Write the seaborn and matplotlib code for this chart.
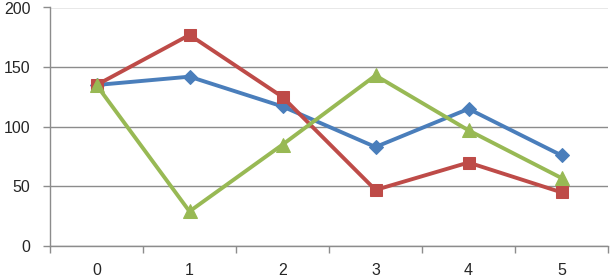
"""Excel-style line chart with three marker series."""

import matplotlib.pyplot as plt
import numpy as np
import pandas as pd
import seaborn as sns
from matplotlib.ticker import FixedLocator

categories = [0, 1, 2, 3, 4, 5]
series_blue = [135, 142, 117, 83, 115, 76]
series_red = [135, 177, 125, 47, 70, 45]
series_green = [135, 29, 85, 143, 97, 57]
y_ticks = [0, 50, 100, 150, 200]

sns.set_theme(style="white")
plt.rcParams["font.family"] = ["Liberation Sans", "DejaVu Sans"]

frame = pd.DataFrame({
    "x": categories * 3,
    "y": series_blue + series_red + series_green,
    "series": ["blue"] * 6 + ["red"] * 6 + ["green"] * 6,
})

palette = {"blue": "#4A7EBB", "red": "#BE4B48", "green": "#98B954"}
markers = {"blue": "D", "red": "s", "green": "^"}

figure = plt.figure(figsize=(6.1, 2.79), dpi=100)
axis = figure.add_axes([50 / 610, 33 / 279, 558 / 610, 238.5 / 279])

for name, size in (("blue", 7), ("red", 8.5), ("green", 10)):
    part = frame[frame["series"] == name]
    sns.lineplot(
        data=part, x="x", y="y",
        color=palette[name], marker=markers[name], markersize=size,
        markeredgecolor=palette[name], linewidth=2.8, ax=axis, legend=False,
    )

axis.set_xlim(-0.5, 5.5)
axis.set_ylim(0, 200)
axis.set_yticks(y_ticks)
axis.set_xticks(categories)
axis.xaxis.set_minor_locator(FixedLocator(np.arange(-0.5, 6.0, 1.0)))
axis.set_xlabel("")
axis.set_ylabel("")

axis.grid(axis="y", color="#8C8C8C", linewidth=1.0)
axis.set_axisbelow(True)
for side in ("top", "right"):
    axis.spines[side].set_visible(False)
for side in ("left", "bottom"):
    axis.spines[side].set_color("#8C8C8C")
    axis.spines[side].set_linewidth(1.0)

axis.tick_params(axis="y", which="major", direction="out", length=5, width=1,
                 color="#8C8C8C", labelsize=11.5, pad=9, left=True)
axis.tick_params(axis="x", which="major", length=0, labelsize=11.5, pad=12)
axis.tick_params(axis="x", which="minor", direction="out", length=5, width=1,
                 color="#8C8C8C", bottom=True)

figure.savefig("out.png", dpi=100)
plt.close(figure)
